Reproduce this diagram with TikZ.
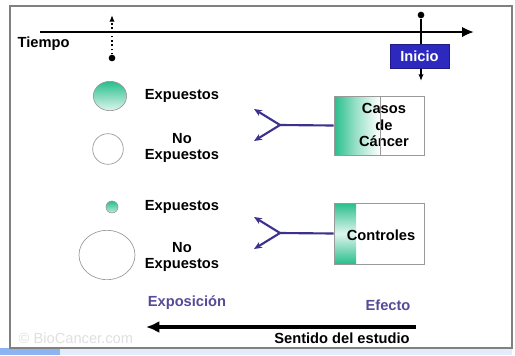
\documentclass[tikz,border=0pt]{standalone}
\usepackage{fontspec}
\setmainfont{Liberation Sans}
\usetikzlibrary{arrows.meta,shapes.geometric,calc}
\definecolor{mintGreen}{RGB}{40,190,140}
\definecolor{inicioBlue}{RGB}{45,40,190}
\definecolor{forkBlue}{RGB}{60,50,140}
\definecolor{labelBlue}{RGB}{85,75,150}
\definecolor{stripBlue}{RGB}{140,180,240}
\begin{document}
\begin{tikzpicture}[x=0.75pt,y=-0.75pt,
		txt/.style={font=\fontsize{11}{12.5}\selectfont\bfseries, inner sep=1pt, align=center},
		grupo/.style={circle, draw=gray!80, line width=0.5pt, inner sep=0pt},
		caja/.style={rectangle, draw=gray!80, line width=0.6pt, minimum width=67.5pt, inner sep=1pt},
		fork/.style={draw=forkBlue, line width=1.6pt, -{Stealth[length=6pt,width=5pt]}},
		punto/.style={circle, fill=black, inner sep=0pt, minimum size=5pt}]
	\useasboundingbox (0,0) rectangle (515,355);

	% marco
	\fill[stripBlue] (0,348) rectangle (60,355);
	\fill[stripBlue!25] (60,348) rectangle (512,355);
	\draw[gray, line width=0.8pt] (10,6) rectangle (512,348);
	\node[font=\fontsize{11}{12}\selectfont, text=gray!25, anchor=west](marca) at (14,338){\textcopyright{} BioCancer.com};

	% eje del tiempo
	\coordinate (tIni) at (40,32);
	\coordinate (tFin) at (474,32);
	\draw[line width=2.2pt, -{Latex[length=9pt,width=8pt]}] (tIni) -- (tFin);
	\node[txt, anchor=west](tiempo) at (16,44){Tiempo};

	\node[punto](expDot) at (112,58){};
	\coordinate (expTop) at (112,15);
	\draw[dotted, line width=1.2pt, -{Latex[length=5pt,width=4pt]}] (expDot) -- (expTop);

	\node[punto](inicioDot) at (421,15){};
	\coordinate (inicioBot) at (421,81);
	\draw[line width=1.2pt, -{Latex[length=5pt,width=4pt]}] (inicioDot) -- (inicioBot);
	\node[rectangle, fill=inicioBlue, draw=inicioBlue!70!black, text=white, font=\fontsize{11}{12}\selectfont\bfseries, minimum width=44pt, minimum height=18pt, inner sep=1pt](inicio) at (419.5,56){Inicio};

	% grupos
	\node[grupo, ellipse, top color=mintGreen, bottom color=mintGreen!15, minimum width=25pt, minimum height=22pt](casExp) at (110,96){};
	\node[grupo, minimum size=23pt, fill=white](casNoExp) at (108,149){};
	\node[grupo, top color=mintGreen, bottom color=mintGreen!30, minimum size=9pt](conExp) at (112,207){};
	\node[grupo, ellipse, fill=white, minimum width=42pt, minimum height=37pt](conNoExp) at (107,255){};

	\node[txt](casExpTxt) at (182,96){Expuestos};
	\node[txt](casNoExpTxt) at (182,148){No\\Expuestos};
	\node[txt](conExpTxt) at (182,207){Expuestos};
	\node[txt](conNoExpTxt) at (182,257){No\\Expuestos};

	% cajas
	\shade[left color=mintGreen, right color=white, middle color=mintGreen!45] (334,96) rectangle (380,155);
	\shade[top color=mintGreen, bottom color=mintGreen, middle color=mintGreen!15] (334,203) rectangle (356,264);
	\node[caja, minimum height=44.25pt](casos) at (379,125.5){};
	\node[txt](casosTxt) at (384,125){Casos\\de\\Cáncer};
	\draw[gray!80, line width=0.6pt] ($(casos.north west)!0.51!(casos.north east)$) -- ($(casos.south west)!0.51!(casos.south east)$);
	\node[caja, minimum height=45.75pt](controles) at (379,233.5){};
	\node[txt](controlesTxt) at (381,235){Controles};

	% horquillas
	\coordinate (casJun) at (280,125);
	\coordinate (casUp) at (254,109);
	\coordinate (casDn) at (254,141);
	\draw[draw=forkBlue, line width=1.6pt] (casJun) -- (casos.west);
	\draw[fork] (casJun) -- (casUp);
	\draw[fork] (casJun) -- (casDn);

	\coordinate (conJun) at (280,233);
	\coordinate (conUp) at (254,217);
	\coordinate (conDn) at (254,249);
	\draw[draw=forkBlue, line width=1.6pt] (conJun) -- (controles.west);
	\draw[fork] (conJun) -- (conUp);
	\draw[fork] (conJun) -- (conDn);

	% sentido del estudio
	\node[txt, text=labelBlue](exposicion) at (187,303){Exposición};
	\node[txt, text=labelBlue](efecto) at (388,305){Efecto};
	\coordinate (sIni) at (416,327);
	\coordinate (sFin) at (146,327);
	\draw[line width=2.8pt, -{Latex[length=10pt,width=9pt]}] (sIni) -- (sFin);
	\node[txt](sentido) at (342,338){Sentido del estudio};
\end{tikzpicture}
\end{document}
